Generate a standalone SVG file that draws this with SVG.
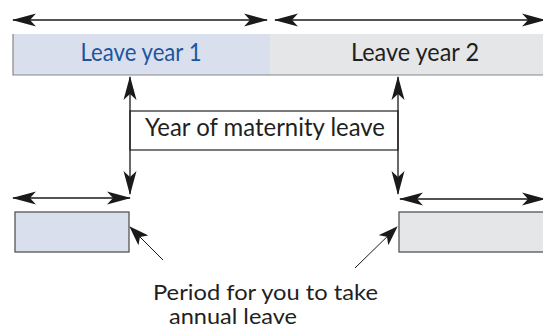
<svg xmlns="http://www.w3.org/2000/svg" width="543" height="333" viewBox="0 0 543 333">
<style>
.ln{stroke:#1a1a1a;stroke-width:1.3;fill:none}
.thin{stroke:#1a1a1a;stroke-width:1;fill:none}
.t{font-family:Lato,"Open Sans",sans-serif;fill:#231f20}
.box{stroke:#555;stroke-width:1.3}
</style>
<defs>
<marker id="ah" viewBox="0 0 24 14" refX="23" refY="7" markerWidth="24" markerHeight="14" markerUnits="userSpaceOnUse" orient="auto-start-reverse">
<path d="M24 7 L0 0.5 L6 7 L0 13.5 Z" fill="#1a1a1a"/>
</marker>
<marker id="ah2" viewBox="0 0 20 14" refX="19" refY="7" markerWidth="20" markerHeight="14" markerUnits="userSpaceOnUse" orient="auto">
<path d="M20 7 L0 0 L5 7 L0 14 Z" fill="#1a1a1a"/>
</marker>
</defs>
<g id="leave-year-1">
<rect x="13" y="34" width="257" height="41" fill="#dadfee"/>
<path d="M13 34 V75 H270" stroke="#888" stroke-width="1.2" fill="none"/>
<text class="t" x="141" y="61" font-size="25.5" text-anchor="middle" style="fill:#1a56a0" textLength="121" lengthAdjust="spacingAndGlyphs">Leave year 1</text>
</g>
<g id="leave-year-2">
<rect x="270" y="34" width="273" height="41" fill="#e5e6e8"/>
<path d="M270 75 H543" stroke="#888" stroke-width="1.2" fill="none"/>
<text class="t" x="415" y="61" font-size="25.5" text-anchor="middle" textLength="128" lengthAdjust="spacingAndGlyphs">Leave year 2</text>
</g>
<g id="maternity">
<rect x="130" y="111" width="268" height="39" fill="#fff" stroke="#333" stroke-width="1.3"/>
<text class="t" x="265" y="136" font-size="24.5" text-anchor="middle" textLength="240" lengthAdjust="spacingAndGlyphs">Year of maternity leave</text>
</g>
<g id="period-1">
<rect x="15" y="212" width="114" height="40" fill="#dadfee" class="box"/>
</g>
<g id="period-2">
<rect x="399" y="212" width="150" height="40" fill="#e5e6e8" class="box"/>
</g>
<g id="label">
<text class="t" x="153" y="300" font-size="21.5" textLength="225" lengthAdjust="spacingAndGlyphs">Period for you to take</text>
<text class="t" x="169" y="324" font-size="21.5" textLength="128" lengthAdjust="spacingAndGlyphs">annual leave</text>
</g>
<g id="connectors">
<line class="ln" x1="13" y1="20" x2="267" y2="20" marker-start="url(#ah)" marker-end="url(#ah)"/>
<line class="ln" x1="275" y1="20" x2="545" y2="20" marker-start="url(#ah)" marker-end="url(#ah)"/>
<line class="ln" x1="130" y1="77" x2="130" y2="194" marker-start="url(#ah)" marker-end="url(#ah)"/>
<line class="ln" x1="398" y1="77" x2="398" y2="194" marker-start="url(#ah)" marker-end="url(#ah)"/>
<line class="ln" x1="13" y1="198" x2="130" y2="198" marker-start="url(#ah)" marker-end="url(#ah)"/>
<line class="ln" x1="400" y1="199" x2="545" y2="199" marker-start="url(#ah)" marker-end="url(#ah)"/>
<line class="thin" x1="163" y1="260" x2="130" y2="227" marker-end="url(#ah2)"/>
<line class="thin" x1="355" y1="268" x2="397" y2="227" marker-end="url(#ah2)"/>
</g>
</svg>
